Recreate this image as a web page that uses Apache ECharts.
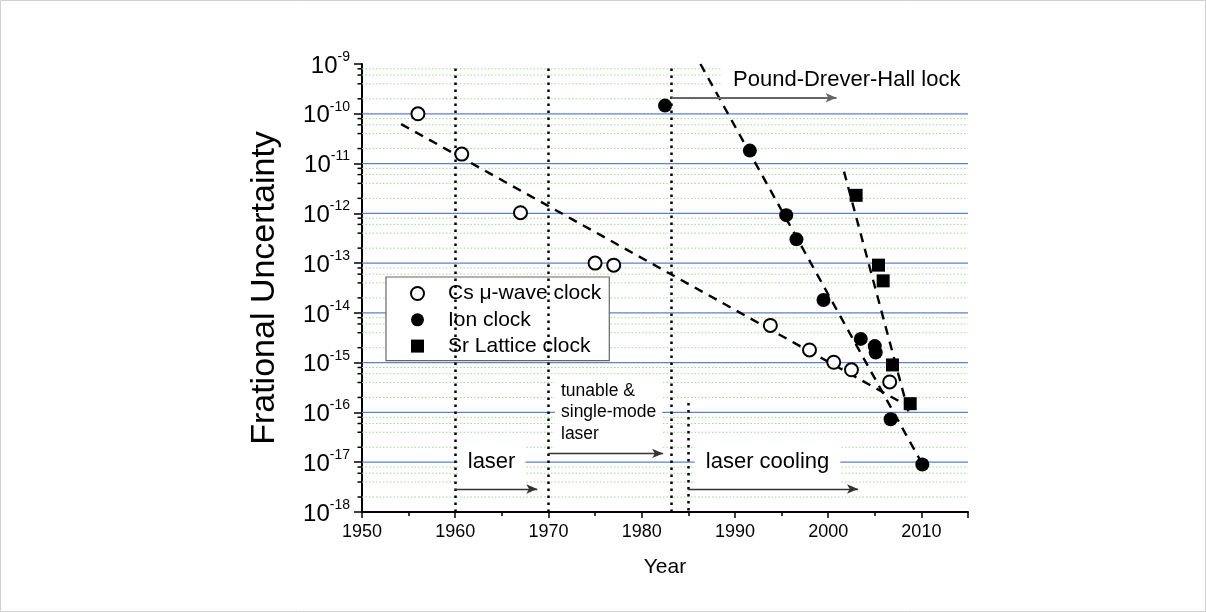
<!DOCTYPE html>
<html style="height: 100%">
  <head>
    <meta charset="UTF-8" />
    <title>Clock uncertainty</title>
    <script src="https://cdn.jsdelivr.net/npm/echarts@6/dist/echarts.min.js"></script>
  </head>
  <body style="height: 100%; margin: 0">
    <div id="main" style="width: 1206px; height: 612px"></div>
    <script>
      var F = "'Liberation Sans', Arial, Helvetica, sans-serif";

      // measured points
      var csYears = [1956.0, 1960.7, 1967.0, 1975.0, 1977.0, 1993.8, 1998.0, 2000.6, 2002.5, 2006.6];
      var csValues = [1.0e-10, 1.55e-11, 1.03e-12, 1.0e-13, 9.1e-14, 5.6e-15, 1.8e-15, 1.02e-15, 7.2e-16, 4.1e-16];
      var ionYears = [1982.5, 1991.6, 1995.5, 1996.6, 1999.5, 2003.5, 2005.0, 2005.1, 2006.7, 2010.1];
      var ionValues = [1.46e-10, 1.82e-11, 9.2e-13, 3.0e-13, 1.82e-14, 3.0e-15, 2.15e-15, 1.6e-15, 7.3e-17, 9.0e-18];
      var srYears = [2003.0, 2005.4, 2005.9, 2006.9, 2008.8];
      var srValues = [2.3e-12, 9.1e-14, 4.4e-14, 9.0e-16, 1.5e-16];

      // dashed trend lines (end points)
      var csFit = [[1954.2, 6.2e-11], [2008.0, 1.53e-16]];
      var ionFit = [[1986.3, 1e-9], [2010.2, 8.5e-18]];
      var srFit = [[2001.7, 6.9e-12], [2008.6, 1.05e-16]];

      // era markers
      var eraYears = [1960, 1970, 1983.2];
      var coolingStart = [1985, 1.55e-16];
      var arrows = [
        [[1960, 2.9e-18], [1968.8, 2.9e-18]],
        [[1970, 1.5e-17], [1982.3, 1.5e-17]],
        [[1985, 2.9e-18], [2003.2, 2.9e-18]],
        [[1983.2, 2.1e-10], [2000.9, 2.1e-10]]
      ];
      var notes = [
        { name: 'laser', at: [1963.9, 1e-17] },
        { name: 'laser cooling', at: [1993.5, 1e-17] },
        { name: 'tunable &\nsingle-mode\nlaser', at: [1970.7, 1e-16] },
        { name: 'Pound-Drever-Hall lock', at: [2002.1, 4.8e-10] }
      ];

      var decades = [-18, -17, -16, -15, -14, -13, -12, -11, -10, -9];
      var minorSteps = [2, 4, 6, 8];

      var majorLines = [];
      var minorLines = [];
      decades.forEach(function (e) {
        if (e > -18 && e < -9) majorLines.push([1950, Math.pow(10, e)]);
        if (e < -9) {
          minorSteps.forEach(function (k) {
            minorLines.push([1950, k * Math.pow(10, e)]);
          });
        }
      });

      var chart = echarts.init(document.getElementById('main'));

      var dotted = { color: '#000', width: 2.5, type: [2.5, 4.5] };
      var arrowStyle = { color: '#333', width: 1.3, type: 'solid' };

      var markData = eraYears.map(function (y) {
        return { xAxis: y, lineStyle: dotted };
      });
      markData.push([
        { coord: coolingStart, lineStyle: dotted },
        { coord: [coolingStart[0], 1e-18], lineStyle: dotted }
      ]);
      arrows.forEach(function (a, i) {
        var st = i === 3 ? { color: '#666', width: 1.8, type: 'solid' } : arrowStyle;
        markData.push([
          { coord: a[0], symbol: 'none', lineStyle: st },
          { coord: a[1], symbol: 'arrow', symbolSize: [7, 11], lineStyle: st }
        ]);
      });

      function hLine(stroke, width, dash) {
        return function (params, api) {
          var a = api.coord([1950, api.value(1)]);
          var b = api.coord([2015, api.value(1)]);
          return {
            type: 'line',
            shape: { x1: a[0], y1: a[1], x2: b[0], y2: b[1] },
            style: { stroke: stroke, lineWidth: width, lineDash: dash }
          };
        };
      }

      var noteLabels = [
        { fontSize: 22, padding: [10, 10, 10, 10], position: 'inside' },
        { fontSize: 22, padding: [10, 11, 10, 11], position: 'inside' },
        { fontSize: 17.5, lineHeight: 21.5, padding: [4, 6, 4, 6], position: 'right', distance: 0, align: 'left' },
        { fontSize: 22, padding: [13, 14, 11, 12], position: 'inside' }
      ];

      var option = {
        animation: false,
        backgroundColor: '#fff',
        textStyle: { fontFamily: F },
        grid: { left: 362, right: 238, top: 64, bottom: 100, outerBoundsMode: 'none' },
        legend: {
          data: ['Cs μ-wave clock', 'Ion clock', 'Sr Lattice clock'],
          orient: 'vertical',
          left: 386,
          top: 277,
          itemWidth: 13,
          itemHeight: 13,
          itemGap: 5.3,
          padding: [6, 8, 4, 24],
          backgroundColor: '#fff',
          borderColor: '#666',
          borderWidth: 1.2,
          selectedMode: false,
          textStyle: { fontSize: 21, color: '#000', fontFamily: F, padding: [0, 0, 0, 19] }
        },
        xAxis: {
          type: 'value',
          min: 1950,
          max: 2015,
          interval: 10,
          name: 'Year',
          nameLocation: 'middle',
          nameGap: 45,
          nameTextStyle: { fontSize: 21, color: '#000', fontFamily: F },
          axisLine: { lineStyle: { color: '#000', width: 2 } },
          axisTick: { length: 6, lineStyle: { color: '#000', width: 1.5 } },
          minorTick: { show: true, splitNumber: 2, length: 4, lineStyle: { color: '#000', width: 1.5 } },
          splitLine: { show: false },
          axisLabel: {
            margin: 11,
            fontSize: 18,
            color: '#000',
            fontFamily: F,
            showMaxLabel: false,
            formatter: function (v) { return String(Math.round(v)); }
          }
        },
        yAxis: {
          type: 'log',
          logBase: 10,
          min: 1e-18,
          max: 1e-9,
          interval: 1,
          name: 'Frational Uncertainty',
          nameLocation: 'middle',
          nameGap: 80,
          nameTextStyle: { fontSize: 34, color: '#000', fontFamily: F },
          axisLine: { show: true, lineStyle: { color: '#000', width: 2 } },
          axisTick: { length: 8, lineStyle: { color: '#000', width: 1.5 } },
          splitLine: { show: false },
          axisLabel: {
            margin: 12,
            formatter: function (v) {
              return '{b|10}{s|' + Math.round(Math.log10(v)) + '}';
            },
            rich: {
              b: { fontSize: 24, lineHeight: 28, verticalAlign: 'bottom', color: '#000', fontFamily: F },
              s: { fontSize: 14, lineHeight: 14, verticalAlign: 'top', color: '#000', fontFamily: F }
            }
          }
        },
        series: [
          {
            type: 'custom',
            name: 'minorGrid',
            silent: true,
            z: 1,
            data: minorLines,
            renderItem: hLine('#a6d59a', 1, [1.5, 2])
          },
          {
            type: 'custom',
            name: 'majorGrid',
            silent: true,
            z: 1,
            data: majorLines,
            renderItem: hLine('#5f80c8', 1.2, null)
          },
          {
            type: 'scatter',
            name: 'notes',
            silent: true,
            z: 2,
            symbolSize: 0,
            itemStyle: { opacity: 1 },
            data: notes.map(function (n, i) {
              var l = noteLabels[i];
              return {
                name: n.name,
                value: n.at,
                label: {
                  show: true,
                  formatter: '{b}',
                  position: l.position,
                  distance: l.distance || 0,
                  align: l.align || 'center',
                  fontSize: l.fontSize,
                  lineHeight: l.lineHeight || l.fontSize * 1.2,
                  padding: l.padding,
                  color: '#000',
                  fontFamily: F,
                  backgroundColor: '#fff'
                }
              };
            })
          },
          {
            type: 'line',
            name: 'marks',
            data: [],
            silent: true,
            z: 3,
            markLine: {
              silent: true,
              symbol: 'none',
              animation: false,
              label: { show: false },
              data: markData
            }
          },
          {
            type: 'custom',
            name: 'yminor',
            silent: true,
            clip: false,
            z: 3,
            data: minorLines,
            renderItem: function (params, api) {
              var p = api.coord([api.value(0), api.value(1)]);
              return {
                type: 'line',
                shape: { x1: p[0] - 4.5, y1: p[1], x2: p[0], y2: p[1] },
                style: { stroke: '#000', lineWidth: 1.5 }
              };
            }
          },
          {
            type: 'line', name: 'csFit', data: csFit, symbol: 'none', silent: true, z: 4,
            lineStyle: { color: '#000', width: 2.4, type: [9, 7] }
          },
          {
            type: 'line', name: 'ionFit', data: ionFit, symbol: 'none', silent: true, z: 4,
            lineStyle: { color: '#000', width: 2.4, type: [9, 7] }
          },
          {
            type: 'line', name: 'srFit', data: srFit, symbol: 'none', silent: true, z: 4,
            lineStyle: { color: '#000', width: 2.4, type: [9, 7] }
          },
          {
            type: 'scatter',
            name: 'Cs μ-wave clock',
            z: 5,
            symbol: 'emptyCircle',
            symbolSize: 13,
            itemStyle: { color: '#000', borderColor: '#000', borderWidth: 1.8, opacity: 1 },
            data: csYears.map(function (y, i) { return [y, csValues[i]]; })
          },
          {
            type: 'scatter',
            name: 'Ion clock',
            z: 5,
            symbol: 'circle',
            symbolSize: 14,
            itemStyle: { color: '#000', opacity: 1 },
            data: ionYears.map(function (y, i) { return [y, ionValues[i]]; })
          },
          {
            type: 'scatter',
            name: 'Sr Lattice clock',
            z: 5,
            symbol: 'rect',
            symbolSize: 13,
            itemStyle: { color: '#000', opacity: 1 },
            data: srYears.map(function (y, i) { return [y, srValues[i]]; })
          }
        ],
        graphic: [
          {
            type: 'rect',
            silent: true,
            shape: { x: 0.5, y: 0.5, width: 1205, height: 611 },
            style: { fill: 'none', stroke: '#d0d0d0', lineWidth: 1 }
          }
        ]
      };

      chart.setOption(option);
    </script>
  </body>
</html>
